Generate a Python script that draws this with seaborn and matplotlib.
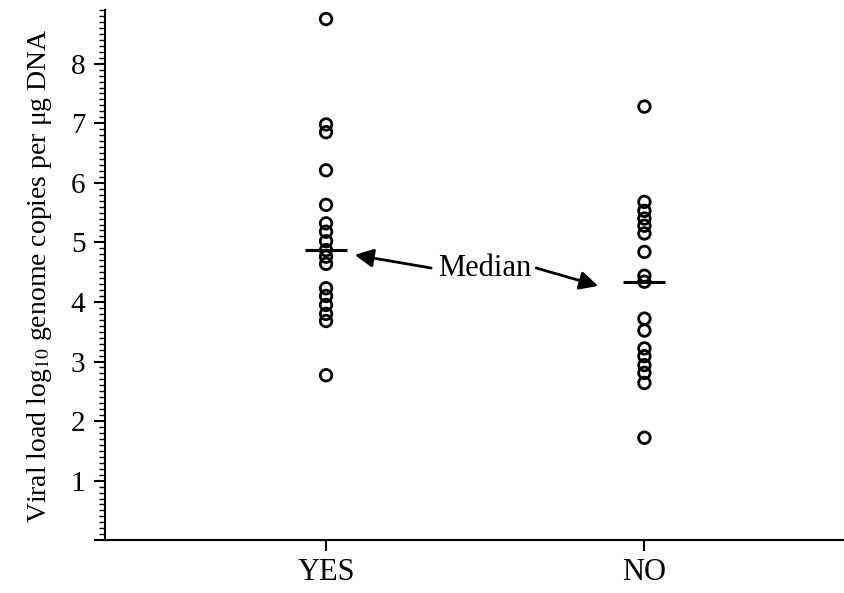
import matplotlib
matplotlib.use("Agg")
import matplotlib.pyplot as plt
import numpy as np
import pandas as pd
import seaborn as sns

# values (log10 genome copies per ug DNA)
yes_load = [8.75, 6.98, 6.85, 6.21, 5.63, 5.32, 5.18, 5.02, 4.87,
            4.76, 4.64, 4.23, 4.10, 3.95, 3.80, 3.68, 2.77]
no_load = [7.28, 5.68, 5.53, 5.40, 5.28, 5.15, 4.84, 4.44, 4.34,
           3.72, 3.52, 3.22, 3.09, 2.94, 2.81, 2.64, 1.72]
groups = ["YES", "NO"]

df = pd.DataFrame({
    "group": ["YES"] * len(yes_load) + ["NO"] * len(no_load),
    "load": yes_load + no_load,
})
medians = df.groupby("group")["load"].median().reindex(groups).values

sns.set_style("ticks")
plt.rcParams["font.family"] = ["Liberation Serif", "DejaVu Serif"]
plt.rcParams["mathtext.fontset"] = "stix"
for key in ["text.color", "axes.labelcolor", "xtick.color", "ytick.color", "axes.edgecolor"]:
    plt.rcParams[key] = "black"

fig = plt.figure(figsize=(8.45, 5.93), dpi=100)
ax = fig.add_axes([0.124, 0.089, 0.876, 0.894])

sns.stripplot(data=df, x="group", y="load", order=groups, jitter=False,
              color="black", size=8.3, linewidth=2, edgecolor="black", ax=ax)
for coll in ax.collections:
    coll.set_facecolor("none")
    coll.set_edgecolor("black")

# median bars
for i, m in enumerate(medians):
    ax.hlines(m, i - 0.066, i + 0.066, color="black", lw=2.2)

ax.set_xlim(-0.695, 1.63)
ax.set_ylim(0, 8.9)
ax.set_yticks(range(0, 9))
ax.set_yticklabels([""] + [str(v) for v in range(1, 9)])
ax.yaxis.set_minor_locator(matplotlib.ticker.MultipleLocator(0.1))
ax.tick_params(axis="y", which="major", length=8, width=1.5, labelsize=21, pad=6, direction="out")
ax.tick_params(axis="y", which="minor", length=4, width=1, direction="out")
ax.tick_params(axis="x", which="major", length=8, width=1.5, labelsize=22, pad=5, direction="out")

sns.despine(ax=ax)
ax.spines["left"].set_linewidth(1.5)
ax.spines["bottom"].set_linewidth(1.5)

ax.set_xlabel("")
ax.set_ylabel(r"Viral load log$_{10}$ genome copies per μg DNA", fontsize=20, labelpad=12)

ax.text(0.5, 4.57, "Median", fontsize=22, ha="center", va="center")
arrow = dict(arrowstyle="-|>", mutation_scale=28, lw=2, color="black", shrinkA=0, shrinkB=0)
ax.annotate("", xy=(0.09, medians[0] - 0.08), xytext=(0.33, 4.57), arrowprops=arrow)
ax.annotate("", xy=(0.855, medians[1] - 0.07), xytext=(0.66, 4.57), arrowprops=arrow)

plt.savefig("out.png", dpi=100)
